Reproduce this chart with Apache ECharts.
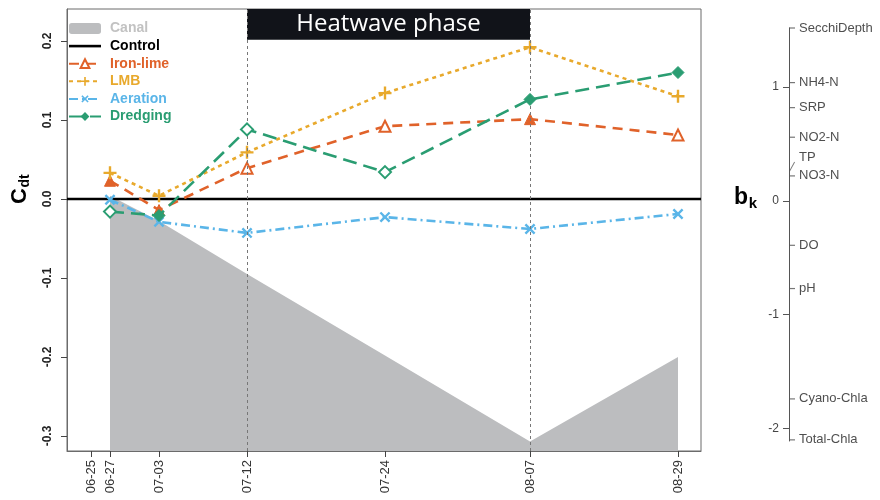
<!DOCTYPE html>
<html><head><meta charset="utf-8">
<script src="https://cdn.jsdelivr.net/npm/echarts@6/dist/echarts.min.js"></script>
<style>html,body{margin:0;padding:0;background:#fff}#c{width:880px;height:500px}</style>
</head><body><div id="c"></div>
<script>
// ---- data ----
const dateLabels = ['06-25','06-27','07-03','07-12','07-24','08-07','08-29'];
// position of each sampling date along the (non-linear) time axis
const datePos = [24, 43, 92, 180, 318, 463, 611];
const samplePos = datePos.slice(1);
const canal    = [0.004, -0.028, -0.095, -0.198, -0.307, -0.200];
const ironLime = [0.023, -0.014, 0.039, 0.092, 0.101, 0.081];
const lmb      = [0.033, 0.004, 0.059, 0.134, 0.192, 0.130];
const aeration = [-0.001, -0.029, -0.043, -0.023, -0.038, -0.019];
const dredging = [-0.016, -0.021, 0.088, 0.034, 0.126, 0.160];
const control  = [0, 0];
const yTicks = [-0.3, -0.2, -0.1, 0.0, 0.1, 0.2];
const heatwaveStart = 3, heatwaveEnd = 5; // indices into dateLabels
const bkNames  = ['SecchiDepth','NH4-N','SRP','NO2-N','TP','NO3-N','DO','pH','Cyano-Chla','Total-Chla'];
const bkValues = [1.52, 1.04, 0.82, 0.56, 0.265, 0.22, -0.39, -0.77, -1.74, -2.10];
const bkTicks  = [1, 0, -1, -2];

// ---- layout / style ----
const X_MIN = 0, X_MAX = 634, Y_MIN = -0.319, Y_MAX = 0.2404;
const FONT = 'Liberation Sans, Arial, sans-serif';
const C = {canal:'#bcbdbf', control:'#000000', iron:'#e0622a', lmb:'#e8a92c', aer:'#5ab5e8', dred:'#2a9d72'};
const plus = 'path://M-1.1,-6H1.1V-1.1H6V1.1H1.1V6H-1.1V1.1H-6V-1.1H-1.1Z';
const openSet = {iron:[false,false,true,true,false,true], dred:[true,false,true,true,false,false]};

function pts(arr){ return arr.map((v,i)=>[samplePos[i], v]); }
function marked(arr, col, opens){
  return arr.map((v,i)=>({value:[samplePos[i], v],
    itemStyle: opens[i] ? {color:'#ffffff', borderColor:col, borderWidth:2}
                        : {color:col, borderColor:col, borderWidth:1}}));
}

const chart = echarts.init(document.getElementById('c'), null, {renderer:'canvas'});
chart.setOption({
  animation:false,
  textStyle:{fontFamily:FONT},
  grid:[
    {left:67, top:9, width:634, height:442, show:true, borderColor:'#6b6b6b', borderWidth:1, backgroundColor:'transparent'},
    {left:789, top:28, width:20, height:413}
  ],
  legend:{
    orient:'vertical', left:68, top:21.5, padding:0, itemWidth:32, itemHeight:11, itemGap:3.6,
    textStyle:{fontSize:14, lineHeight:14, fontWeight:'bold', fontFamily:FONT, padding:[0,0,0,4]},
    data:[
      {name:'Canal', icon:'roundRect', itemStyle:{color:C.canal}, textStyle:{color:'#c2c2c2'}},
      {name:'Control', icon:'path://M0,0H32V2.6H0Z', itemStyle:{color:'#000'}, textStyle:{color:'#000'}},
      {name:'Iron-lime', textStyle:{color:C.iron}, itemStyle:{color:'#fff', borderColor:C.iron, borderWidth:2}},
      {name:'LMB', textStyle:{color:C.lmb}},
      {name:'Aeration', textStyle:{color:C.aer}},
      {name:'Dredging', textStyle:{color:C.dred}}
    ]
  },
  xAxis:[
    {type:'value', gridIndex:0, min:X_MIN, max:X_MAX, splitLine:{show:false},
     axisLine:{show:true, onZero:false, lineStyle:{color:'#6b6b6b'}},
     axisTick:{show:true, length:6, customValues:datePos, lineStyle:{color:'#444'}},
     axisLabel:{customValues:datePos, rotate:90, margin:9, fontSize:13, color:'#333', fontFamily:FONT,
       formatter:v=>{const i=datePos.indexOf(v); return i>=0?dateLabels[i]:'';}}},
    {type:'value', gridIndex:1, min:0, max:1, show:false}
  ],
  yAxis:[
    {type:'value', gridIndex:0, min:Y_MIN, max:Y_MAX, splitLine:{show:false},
     axisLine:{show:true, onZero:false, lineStyle:{color:'#6b6b6b'}},
     axisTick:{show:true, length:6, customValues:yTicks, lineStyle:{color:'#444'}},
     axisLabel:{customValues:yTicks, rotate:90, margin:13, fontSize:12, fontWeight:'bold', color:'#222', fontFamily:FONT,
       formatter:v=>v.toFixed(1)}},
    {type:'value', gridIndex:1, min:-2.11, max:1.52, splitLine:{show:false}, position:'left',
     axisLine:{show:true, lineStyle:{color:'#555'}},
     axisTick:{show:true, length:6, customValues:bkTicks, lineStyle:{color:'#555'}},
     axisLabel:{customValues:bkTicks, margin:10, fontSize:12, color:'#444', fontFamily:FONT}}
  ],
  series:[
    {name:'Canal', type:'line', data:pts(canal), symbol:'none', z:1,
     lineStyle:{width:0, color:C.canal}, itemStyle:{color:C.canal},
     areaStyle:{color:C.canal, opacity:1, origin:'start'}},
    {name:'Control', type:'line', data:control.map((v,i)=>[i?X_MAX:X_MIN, v]), symbol:'none', z:3,
     lineStyle:{width:2.6, color:'#000'}, itemStyle:{color:'#000'},
     markLine:{silent:true, symbol:['none','none'], label:{show:false},
       lineStyle:{type:[3,3], color:'#777', width:1},
       data:[{xAxis:datePos[heatwaveStart]},{xAxis:datePos[heatwaveEnd]}]},
     markArea:{silent:true, itemStyle:{color:'#111319'},
       label:{show:true, position:'inside', color:'#fff', fontSize:24, fontFamily:'Open Sans, sans-serif'},
       data:[[{name:'Heatwave phase', xAxis:datePos[heatwaveStart], yAxis:0.2015},{xAxis:datePos[heatwaveEnd], yAxis:Y_MAX}]]}},
    {name:'Iron-lime', type:'line', data:marked(ironLime, C.iron, openSet.iron), symbol:'triangle', symbolSize:11, z:4,
     lineStyle:{width:2.6, color:C.iron, type:[10,7]}, itemStyle:{color:C.iron}},
    {name:'LMB', type:'line', data:pts(lmb), symbol:plus, symbolSize:13, z:4,
     lineStyle:{width:2.6, color:C.lmb, type:[4,4]}, itemStyle:{color:C.lmb}},
    {name:'Aeration', type:'line', data:pts(aeration), symbol:plus, symbolRotate:45, symbolSize:13, z:4,
     lineStyle:{width:2.6, color:C.aer, type:[9,4,2,4]}, itemStyle:{color:C.aer}},
    {name:'Dredging', type:'line', data:marked(dredging, C.dred, openSet.dred), symbol:'diamond', symbolSize:12, z:5,
     lineStyle:{width:2.6, color:C.dred, type:[14,7]}, itemStyle:{color:C.dred}},
    {name:'bk', type:'scatter', xAxisIndex:1, yAxisIndex:1, silent:true,
     data:bkNames.map((n,i)=>{
       const isTP = n==='TP';
       return {value:[0,bkValues[i]], name:n,
         symbol: isTP ? 'path://M0,10L6,0L6.9,0.6L0.9,10.6Z' : 'rect',
         symbolSize: isTP ? [6,10] : [6,1.2],
         symbolOffset: isTP ? [3,-4] : [3,0],
         label:{offset: isTP ? [0,-9] : [0,0]}};
     }),
     itemStyle:{color:'#555'},
     label:{show:true, position:'right', distance:4, fontSize:13, color:'#222', fontFamily:FONT, formatter:p=>p.name}}
  ],
  graphic:[
    {type:'text', x:20, y:196, rotation:Math.PI/2, style:{text:'C', fontSize:22, fontWeight:'bold', fill:'#000', fontFamily:FONT, align:'center', verticalAlign:'middle'}},
    {type:'text', x:25, y:181, rotation:Math.PI/2, style:{text:'dt', fontSize:14, fontWeight:'bold', fill:'#000', fontFamily:FONT, align:'center', verticalAlign:'middle'}},
    {type:'text', x:741, y:198, style:{text:'b', fontSize:23, fontWeight:'bold', fill:'#000', fontFamily:FONT, align:'center', verticalAlign:'middle'}},
    {type:'text', x:753, y:204, style:{text:'k', fontSize:15, fontWeight:'bold', fill:'#000', fontFamily:FONT, align:'center', verticalAlign:'middle'}}
  ]
});
</script></body></html>
